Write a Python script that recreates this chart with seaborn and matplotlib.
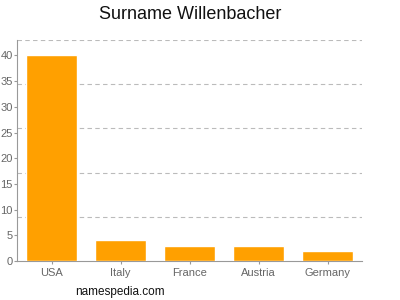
import matplotlib
matplotlib.use("Agg")
import matplotlib.pyplot as plt
import seaborn as sns
import pandas as pd
import numpy as np

countries = ["USA", "Italy", "France", "Austria", "Germany"]
counts = [40, 4, 3, 3, 2]
yticks = [0, 5, 10, 15, 20, 25, 30, 35, 40]
ymax = 43
grid_levels = [8.6, 17.2, 25.8, 34.4, 43]

sns.set_theme(style="white")
plt.rcParams['font.family'] = ['Liberation Sans', 'DejaVu Sans']

fig = plt.figure(figsize=(4, 3), dpi=100)
ax = fig.add_axes([0.0425, 0.13, 0.8625, 0.7367])

df = pd.DataFrame({"country": countries, "count": counts})
sns.barplot(data=df, x="country", y="count", color="#FFA000", saturation=1,
            width=0.725, ax=ax, zorder=3)

ax.set_xlim(-0.5, 4.5)
ax.set_ylim(0, ymax)
ax.set_yticks(yticks)
ax.set_yticks(grid_levels, minor=True)
ax.yaxis.grid(True, which="minor", linestyle=(0, (4, 3)), color="#BBBBBB", linewidth=0.8)
ax.yaxis.grid(False, which="major")
ax.tick_params(axis="y", which="minor", length=0)
ax.tick_params(axis="both", which="major", labelsize=8, labelcolor="#666666",
               color="#999999", length=2, width=0.8, pad=1, left=True, bottom=True)
ax.tick_params(axis="x", pad=3)
ax.set_xlabel("")
ax.set_ylabel("")
for s in ["top", "right"]:
    ax.spines[s].set_visible(False)
for s in ["left", "bottom"]:
    ax.spines[s].set_color("#999999")
    ax.spines[s].set_linewidth(0.8)

fig.text(0.475, 0.953, "Surname Willenbacher", ha="center", va="center",
         fontsize=13, color="#111111")
fig.text(0.1875, 0.027, "namespedia.com", ha="left", va="center",
         fontsize=8.5, color="#111111")

fig.savefig("out.png", dpi=100)
